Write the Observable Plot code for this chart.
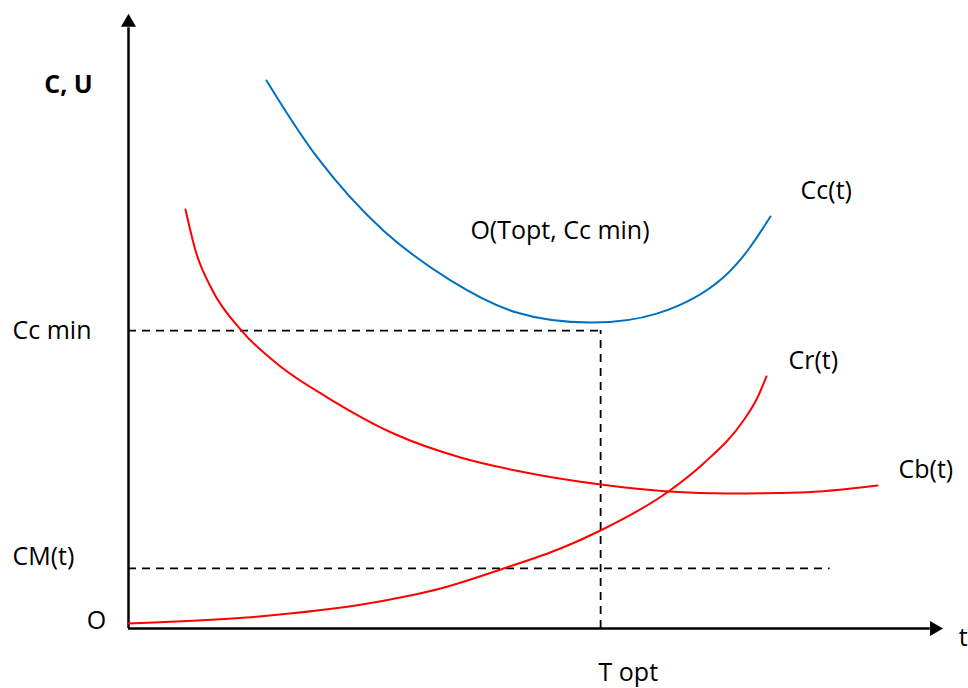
<!DOCTYPE html>
<html>
<head>
<meta charset="utf-8">
<script src="https://cdn.jsdelivr.net/npm/d3@7"></script>
<script src="https://cdn.jsdelivr.net/npm/@observablehq/plot@0.6"></script>
<style>
  html, body { margin: 0; padding: 0; background: #fff; }
  #chart svg { display: block; }
</style>
</head>
<body>
<div id="chart"></div>
<script>
// Total cost curve Cc(t)
const ccT = [1.695, 2.322, 3.133, 3.956, 4.779, 5.676, 6.499, 7.310, 7.887];
const ccV = [8.94, 7.68, 6.49, 5.68, 5.15, 4.99, 5.14, 5.73, 6.72];
// Cb(t)
const cbT = [0.700, 0.823, 1.032, 1.388, 1.867, 2.445, 3.256, 4.079, 4.816, 5.799, 6.634, 7.359, 8.256, 9.201];
const cbV = [6.835, 6.166, 5.514, 4.861, 4.274, 3.768, 3.181, 2.790, 2.561, 2.349, 2.235, 2.202, 2.219, 2.333];
// Cr(t)
const crT = [0.00, 1.450, 3.010, 3.833, 4.607, 5.307, 5.799, 6.634, 7.064, 7.555, 7.715, 7.838];
const crV = [0.082, 0.179, 0.424, 0.653, 0.979, 1.305, 1.599, 2.235, 2.692, 3.393, 3.736, 4.111];

const tOpt = 5.80;
const ccMin = 4.86;
const cmLevel = 0.98;
const cmEnd = 8.62;

const labels = ["C, U", "Cc min", "CM(t)", "O", "T opt", "t", "Cc(t)", "O(Topt, Cc min)", "Cr(t)", "Cb(t)"];
const labelT = [-0.737, -1.425, -1.425, -0.393, 6.14, 10.20, 8.256, 4.20, 8.108, 9.459];
const labelV = [8.86, 4.86, 1.17, 0.13, -0.72, -0.16, 7.14, 6.49, 4.37, 2.58];
const labelAnchor = ["middle", "start", "start", "middle", "middle", "start", "start", "start", "start", "start"];
const labelWeight = ["bold", "normal", "normal", "normal", "normal", "normal", "normal", "normal", "normal", "normal"];

const cc = ccT.map((t, i) => ({t, v: ccV[i]}));
const cb = cbT.map((t, i) => ({t, v: cbV[i]}));
const cr = crT.map((t, i) => ({t, v: crV[i]}));
const lab = labels.map((s, i) => ({s, t: labelT[i], v: labelV[i], a: labelAnchor[i], w: labelWeight[i]}));

const font = "'Open Sans', 'Noto Sans', sans-serif";

const textMark = (anchor, weight) => Plot.text(lab.filter(d => d.a === anchor && d.w === weight), {
  x: "t", y: "v", text: "s", textAnchor: anchor, fontWeight: weight,
  fontSize: 25, fill: "#000"
});

const chart = Plot.plot({
  width: 968,
  height: 688,
  marginLeft: 128,
  marginRight: 26,
  marginTop: 15,
  marginBottom: 60,
  x: {domain: [0, 10], axis: null},
  y: {domain: [0, 10], axis: null},
  style: {fontFamily: font, background: "#fff", overflow: "visible"},
  marks: [
    // dashed guides
    Plot.ruleY([ccMin], {x1: 0, x2: tOpt, stroke: "#000", strokeWidth: 1.8, strokeDasharray: "8,6"}),
    Plot.ruleX([tOpt], {y1: 0, y2: ccMin, stroke: "#000", strokeWidth: 1.8, strokeDasharray: "8,6"}),
    Plot.ruleY([cmLevel], {x1: 0, x2: cmEnd, stroke: "#000", strokeWidth: 1.8, strokeDasharray: "8,6"}),
    // axes
    Plot.ruleX([0], {y1: 0, y2: 9.8, stroke: "#000", strokeWidth: 2.5}),
    Plot.ruleY([0], {x1: 0, x2: 9.85, stroke: "#000", strokeWidth: 2.5}),
    Plot.dot([{t: 0, v: 9.886}], {x: "t", y: "v", symbol: "triangle", r: 5.6, fill: "#000", stroke: null}),
    Plot.dot([{t: 9.90, v: 0}], {x: "t", y: "v", symbol: "triangle", r: 5.6, fill: "#000", stroke: null, rotate: 90}),
    // curves
    Plot.line(cb, {x: "t", y: "v", stroke: "#FF0000", strokeWidth: 2, curve: "monotone-x"}),
    Plot.line(cr, {x: "t", y: "v", stroke: "#FF0000", strokeWidth: 2, curve: "monotone-x"}),
    Plot.line(cc, {x: "t", y: "v", stroke: "#0070C0", strokeWidth: 2, curve: "natural"}),
    // labels
    textMark("middle", "bold"),
    textMark("middle", "normal"),
    textMark("start", "normal")
  ]
});

document.getElementById("chart").appendChild(chart);
</script>
</body>
</html>
